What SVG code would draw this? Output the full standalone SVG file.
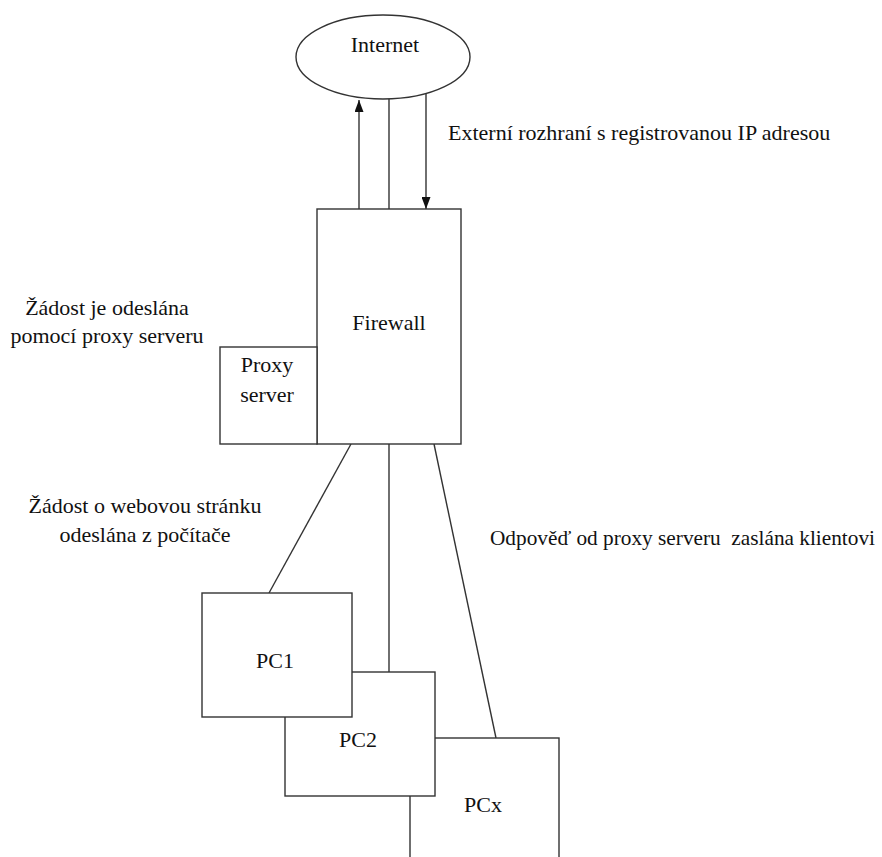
<svg xmlns="http://www.w3.org/2000/svg" width="882" height="857" viewBox="0 0 882 857">
<style>
.s{fill:#fff;stroke:#333;stroke-width:1.4}
.l{stroke:#333;stroke-width:1.4;fill:none}
text{font-family:"Liberation Serif","Times New Roman",serif;font-size:22px;fill:#111}
.c{text-anchor:middle}
</style>
<defs>
<marker id="ah" markerWidth="12" markerHeight="9" refX="12" refY="4.5" orient="auto" markerUnits="userSpaceOnUse" viewBox="0 0 12 9">
<path d="M0,0 L12,4.5 L0,9 Z" fill="#111"/>
</marker>
</defs>
<rect width="882" height="857" fill="#fff"/>
<g id="connectors">
<line class="l" x1="359" y1="209" x2="359" y2="100" marker-end="url(#ah)"/>
<line class="l" x1="389" y1="99" x2="389" y2="209"/>
<line class="l" x1="426" y1="93" x2="426" y2="209" marker-end="url(#ah)"/>
<line class="l" x1="351" y1="444" x2="269" y2="593"/>
<line class="l" x1="389" y1="444" x2="389" y2="672"/>
<line class="l" x1="434" y1="444" x2="496" y2="738"/>
</g>
<g id="internet">
<ellipse class="s" cx="383" cy="57" rx="87" ry="42"/>
<text class="c" x="385" y="52">Internet</text>
</g>
<g id="firewall">
<rect class="s" x="317" y="209" width="144" height="235"/>
<text class="c" x="389" y="330">Firewall</text>
</g>
<g id="proxy">
<rect class="s" x="220" y="347" width="97" height="97"/>
<text class="c" x="267" y="372">Proxy</text>
<text class="c" x="267" y="402">server</text>
</g>
<g id="pcx">
<rect class="s" x="410" y="738" width="149" height="130"/>
<text class="c" x="483" y="812">PCx</text>
</g>
<g id="pc2">
<rect class="s" x="285" y="672" width="150" height="124"/>
<text class="c" x="358" y="747">PC2</text>
</g>
<g id="pc1">
<rect class="s" x="202" y="593" width="150" height="124"/>
<text class="c" x="275" y="668">PC1</text>
</g>
<g id="labels">
<text x="448" y="140">Externí rozhraní s registrovanou IP adresou</text>
<text class="c" x="107" y="315">Žádost je odeslána</text>
<text class="c" x="107" y="343">pomocí proxy serveru</text>
<text class="c" x="145" y="513">Žádost o webovou stránku</text>
<text class="c" x="145" y="542">odeslána z počítače</text>
<text x="490" y="545" style="white-space:pre;font-size:21.5px" textLength="385" lengthAdjust="spacingAndGlyphs">Odpověď od proxy serveru  zaslána klientovi</text>
</g>
</svg>
